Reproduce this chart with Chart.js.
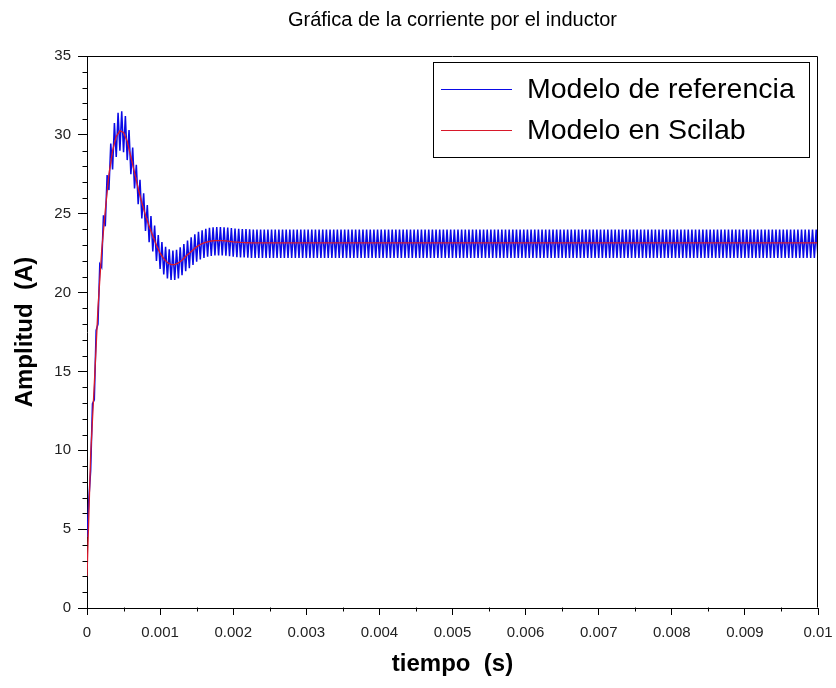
<!DOCTYPE html>
<html>
<head>
<meta charset="utf-8">
<script src="https://cdn.jsdelivr.net/npm/chart.js@4.4.1/dist/chart.umd.min.js"></script>
<style>
  html, body { margin: 0; padding: 0; background: #ffffff; }
  #wrap { width: 836px; height: 688px; }
</style>
</head>
<body>
<div id="wrap"><canvas id="c" width="836" height="688"></canvas></div>
<script>
// ---------------- data ----------------
const chartTitle = 'Gráfica de la corriente por el inductor';
const xAxisTitle = 'tiempo  (s)';
const yAxisTitle = 'Amplitud  (A)';
const seriesNames = ['Modelo de referencia', 'Modelo en Scilab'];

// time between samples (s); sample k is at k * sampleStep
const sampleStep = 0.00005;

// averaged model (Scilab), one value per sample, 0 .. 0.01 s
const scilabAvg = [
  2.0, 9.7, 14.2, 19.0, 22.6, 25.2, 27.5, 29.0, 29.9, 30.25,
  30.15, 29.6, 28.6, 27.6, 26.6, 25.7, 24.9, 24.2, 23.6, 23.0,
  22.5, 22.15, 21.9, 21.77, 21.77, 21.88, 22.05, 22.3, 22.5, 22.7,
  22.9, 23.05, 23.15, 23.22, 23.27, 23.3, 23.3, 23.3, 23.28, 23.25,
  23.22, 23.2, 23.18, 23.17, 23.16, 23.15, 23.15, 23.15, 23.15, 23.15,
  23.15, 23.15, 23.15, 23.15, 23.15, 23.15, 23.15, 23.15, 23.15, 23.15,
  23.15, 23.15, 23.15, 23.15, 23.15, 23.15, 23.15, 23.15, 23.15, 23.15,
  23.15, 23.15, 23.15, 23.15, 23.15, 23.15, 23.15, 23.15, 23.15, 23.15,
  23.15, 23.15, 23.15, 23.15, 23.15, 23.15, 23.15, 23.15, 23.15, 23.15,
  23.15, 23.15, 23.15, 23.15, 23.15, 23.15, 23.15, 23.15, 23.15, 23.15,
  23.15, 23.15, 23.15, 23.15, 23.15, 23.15, 23.15, 23.15, 23.15, 23.15,
  23.15, 23.15, 23.15, 23.15, 23.15, 23.15, 23.15, 23.15, 23.15, 23.15,
  23.15, 23.15, 23.15, 23.15, 23.15, 23.15, 23.15, 23.15, 23.15, 23.15,
  23.15, 23.15, 23.15, 23.15, 23.15, 23.15, 23.15, 23.15, 23.15, 23.15,
  23.15, 23.15, 23.15, 23.15, 23.15, 23.15, 23.15, 23.15, 23.15, 23.15,
  23.15, 23.15, 23.15, 23.15, 23.15, 23.15, 23.15, 23.15, 23.15, 23.15,
  23.15, 23.15, 23.15, 23.15, 23.15, 23.15, 23.15, 23.15, 23.15, 23.15,
  23.15, 23.15, 23.15, 23.15, 23.15, 23.15, 23.15, 23.15, 23.15, 23.15,
  23.15, 23.15, 23.15, 23.15, 23.15, 23.15, 23.15, 23.15, 23.15, 23.15,
  23.15, 23.15, 23.15, 23.15, 23.15, 23.15, 23.15, 23.15, 23.15, 23.15,
  23.15
];

// switched reference model: ripple valleys at k * sampleStep
const refValleys = [
  4.5, 8.7, 13.2, 18.0, 21.6, 24.2, 26.5, 27.8, 28.6, 29.0,
  28.9, 28.4, 27.5, 26.6, 25.6, 24.7, 23.9, 23.2, 22.6, 22.0,
  21.5, 21.15, 20.9, 20.8, 20.8, 20.9, 21.1, 21.35, 21.55, 21.75,
  21.95, 22.1, 22.2, 22.27, 22.32, 22.35, 22.35, 22.35, 22.33, 22.3,
  22.27, 22.25, 22.23, 22.22, 22.21, 22.2, 22.2, 22.2, 22.2, 22.2,
  22.2, 22.2, 22.2, 22.2, 22.2, 22.2, 22.2, 22.2, 22.2, 22.2,
  22.2, 22.2, 22.2, 22.2, 22.2, 22.2, 22.2, 22.2, 22.2, 22.2,
  22.2, 22.2, 22.2, 22.2, 22.2, 22.2, 22.2, 22.2, 22.2, 22.2,
  22.2, 22.2, 22.2, 22.2, 22.2, 22.2, 22.2, 22.2, 22.2, 22.2,
  22.2, 22.2, 22.2, 22.2, 22.2, 22.2, 22.2, 22.2, 22.2, 22.2,
  22.2, 22.2, 22.2, 22.2, 22.2, 22.2, 22.2, 22.2, 22.2, 22.2,
  22.2, 22.2, 22.2, 22.2, 22.2, 22.2, 22.2, 22.2, 22.2, 22.2,
  22.2, 22.2, 22.2, 22.2, 22.2, 22.2, 22.2, 22.2, 22.2, 22.2,
  22.2, 22.2, 22.2, 22.2, 22.2, 22.2, 22.2, 22.2, 22.2, 22.2,
  22.2, 22.2, 22.2, 22.2, 22.2, 22.2, 22.2, 22.2, 22.2, 22.2,
  22.2, 22.2, 22.2, 22.2, 22.2, 22.2, 22.2, 22.2, 22.2, 22.2,
  22.2, 22.2, 22.2, 22.2, 22.2, 22.2, 22.2, 22.2, 22.2, 22.2,
  22.2, 22.2, 22.2, 22.2, 22.2, 22.2, 22.2, 22.2, 22.2, 22.2,
  22.2, 22.2, 22.2, 22.2, 22.2, 22.2, 22.2, 22.2, 22.2, 22.2,
  22.2, 22.2, 22.2, 22.2, 22.2, 22.2, 22.2, 22.2, 22.2, 22.2,
  22.2
];

// switched reference model: ripple peaks at (k + 0.5) * sampleStep
const refPeaks = [
  6.9, 12.95, 17.6, 21.8, 24.9, 27.45, 29.45, 30.75, 31.4, 31.5,
  31.2, 30.3, 29.2, 28.1, 27.15, 26.3, 25.55, 24.85, 24.25, 23.65,
  23.2, 22.9, 22.75, 22.67, 22.72, 22.87, 23.08, 23.3, 23.5, 23.7,
  23.85, 23.95, 24.04, 24.1, 24.14, 24.15, 24.15, 24.14, 24.12, 24.09,
  24.06, 24.04, 24.03, 24.02, 24.01, 24.0, 24.0, 24.0, 24.0, 24.0,
  24.0, 24.0, 24.0, 24.0, 24.0, 24.0, 24.0, 24.0, 24.0, 24.0,
  24.0, 24.0, 24.0, 24.0, 24.0, 24.0, 24.0, 24.0, 24.0, 24.0,
  24.0, 24.0, 24.0, 24.0, 24.0, 24.0, 24.0, 24.0, 24.0, 24.0,
  24.0, 24.0, 24.0, 24.0, 24.0, 24.0, 24.0, 24.0, 24.0, 24.0,
  24.0, 24.0, 24.0, 24.0, 24.0, 24.0, 24.0, 24.0, 24.0, 24.0,
  24.0, 24.0, 24.0, 24.0, 24.0, 24.0, 24.0, 24.0, 24.0, 24.0,
  24.0, 24.0, 24.0, 24.0, 24.0, 24.0, 24.0, 24.0, 24.0, 24.0,
  24.0, 24.0, 24.0, 24.0, 24.0, 24.0, 24.0, 24.0, 24.0, 24.0,
  24.0, 24.0, 24.0, 24.0, 24.0, 24.0, 24.0, 24.0, 24.0, 24.0,
  24.0, 24.0, 24.0, 24.0, 24.0, 24.0, 24.0, 24.0, 24.0, 24.0,
  24.0, 24.0, 24.0, 24.0, 24.0, 24.0, 24.0, 24.0, 24.0, 24.0,
  24.0, 24.0, 24.0, 24.0, 24.0, 24.0, 24.0, 24.0, 24.0, 24.0,
  24.0, 24.0, 24.0, 24.0, 24.0, 24.0, 24.0, 24.0, 24.0, 24.0,
  24.0, 24.0, 24.0, 24.0, 24.0, 24.0, 24.0, 24.0, 24.0, 24.0,
  24.0, 24.0, 24.0, 24.0, 24.0, 24.0, 24.0, 24.0, 24.0, 24.0
];

// axis ticks
const xTickValues = [0, 0.001, 0.002, 0.003, 0.004, 0.005, 0.006, 0.007, 0.008, 0.009, 0.01];
const xTickLabels = ['0', '0.001', '0.002', '0.003', '0.004', '0.005', '0.006', '0.007', '0.008', '0.009', '0.01'];
const yTickValues = [0, 5, 10, 15, 20, 25, 30, 35];
const yTickLabels = ['0', '5', '10', '15', '20', '25', '30', '35'];
const xMinorPerMajor = 2;
const yMinorPerMajor = 5;

// ---------------- build datasets from the arrays ----------------
const avgPoints = scilabAvg.map((v, k) => ({ x: k * sampleStep, y: v }));
const refPoints = [];
for (let k = 0; k < refValleys.length; k++) {
  refPoints.push({ x: k * sampleStep, y: refValleys[k] });
  if (k < refPeaks.length) refPoints.push({ x: (k + 0.5) * sampleStep, y: refPeaks[k] });
}

const BLUE = '#0a0ae6';
const RED = '#d8182a';
const FONT = "'Liberation Sans', Arial, Helvetica, sans-serif";
Chart.defaults.font.family = FONT;
Chart.defaults.color = '#000';

// ---------------- decorations: title, frame, minor ticks, legend ----------------
const decorations = {
  id: 'decorations',
  afterDraw(chart) {
    const ctx = chart.ctx;
    const a = chart.chartArea;
    const xs = chart.scales.x, ys = chart.scales.y;
    ctx.save();
    // title centred over the plot area
    ctx.fillStyle = '#000';
    ctx.font = '20px ' + FONT;
    ctx.textAlign = 'center';
    ctx.textBaseline = 'middle';
    ctx.fillText(chartTitle, (a.left + a.right) / 2, 20);

    ctx.strokeStyle = '#000';
    ctx.lineWidth = 1;
    // top and right frame lines
    const L = Math.round(a.left) + 0.5, R = Math.round(a.right) - 0.5;
    const T = Math.round(a.top) + 0.5, B = Math.round(a.bottom) - 0.5;
    ctx.beginPath();
    ctx.moveTo(L, T); ctx.lineTo(R, T); ctx.lineTo(R, B);
    ctx.stroke();
    // minor ticks
    ctx.beginPath();
    for (let i = 0; i < xTickValues.length - 1; i++) {
      const step = (xTickValues[i + 1] - xTickValues[i]) / xMinorPerMajor;
      for (let j = 1; j < xMinorPerMajor; j++) {
        const px = Math.round(xs.getPixelForValue(xTickValues[i] + j * step)) + 0.5;
        ctx.moveTo(px, B); ctx.lineTo(px, B + 4);
      }
    }
    for (let i = 0; i < yTickValues.length - 1; i++) {
      const step = (yTickValues[i + 1] - yTickValues[i]) / yMinorPerMajor;
      for (let j = 1; j < yMinorPerMajor; j++) {
        const py = Math.round(ys.getPixelForValue(yTickValues[i] + j * step)) + 0.5;
        ctx.moveTo(L, py); ctx.lineTo(L - 5, py);
      }
    }
    ctx.stroke();

    // legend box
    const bx = 433, by = 62, bw = 376, bh = 95;
    ctx.fillStyle = '#fff';
    ctx.fillRect(bx, by, bw, bh);
    ctx.strokeRect(bx + 0.5, by + 0.5, bw, bh);
    const rows = [
      { y: 89.5, color: chart.data.datasets[0].borderColor, text: chart.data.datasets[0].label },
      { y: 130.5, color: chart.data.datasets[1].borderColor, text: chart.data.datasets[1].label }
    ];
    ctx.font = '28.5px ' + FONT;
    ctx.textBaseline = 'middle';
    ctx.textAlign = 'left';
    rows.forEach(r => {
      ctx.strokeStyle = r.color;
      ctx.lineWidth = 1;
      ctx.beginPath();
      ctx.moveTo(441, r.y); ctx.lineTo(512, r.y);
      ctx.stroke();
      ctx.fillStyle = '#000';
      ctx.fillText(r.text, 527, r.y + 1);
    });
    ctx.restore();
  }
};

new Chart(document.getElementById('c'), {
  type: 'line',
  data: {
    datasets: [
      {
        label: seriesNames[0],
        data: refPoints,
        borderColor: BLUE,
        borderWidth: 1.5,
        pointRadius: 0,
        tension: 0,
        order: 1
      },
      {
        label: seriesNames[1],
        data: avgPoints,
        borderColor: RED,
        borderWidth: 1.3,
        pointRadius: 0,
        tension: 0,
        order: 0
      }
    ]
  },
  options: {
    responsive: false,
    animation: false,
    events: [],
    layout: { padding: { left: 0, right: 18, top: 56, bottom: 0 } },
    plugins: {
      legend: { display: false },
      tooltip: { enabled: false },
      title: { display: false }
    },
    scales: {
      x: {
        type: 'linear',
        min: 0,
        max: 0.01,
        afterBuildTicks(scale) { scale.ticks = xTickValues.map(v => ({ value: v })); },
        afterFit(scale) { scale.height = 80; scale.paddingRight = 0; scale.paddingLeft = 0; },
        ticks: {
          autoSkip: false,
          maxRotation: 0,
          minRotation: 0,
          padding: 9,
          color: '#222',
          font: { size: 15 },
          callback: (v, i) => xTickLabels[i]
        },
        grid: { display: true, drawOnChartArea: false, drawTicks: true, tickLength: 7, color: '#000', tickColor: '#000' },
        border: { display: true, color: '#000', width: 1 },
        title: {
          display: true,
          text: xAxisTitle,
          color: '#000',
          font: { size: 24, weight: 'bold', lineHeight: 1.2 },
          padding: { top: 0, bottom: 9 }
        }
      },
      y: {
        type: 'linear',
        min: 0,
        max: 35,
        afterBuildTicks(scale) { scale.ticks = yTickValues.map(v => ({ value: v })); },
        afterFit(scale) { scale.width = 87; scale.paddingTop = 0; scale.paddingBottom = 0; },
        ticks: {
          padding: 7,
          color: '#222',
          font: { size: 15 },
          callback: (v, i) => yTickLabels[i]
        },
        grid: { display: true, drawOnChartArea: false, drawTicks: true, tickLength: 9, color: '#000', tickColor: '#000' },
        border: { display: true, color: '#000', width: 1 },
        title: {
          display: true,
          text: yAxisTitle,
          color: '#000',
          font: { size: 24, weight: 'bold', lineHeight: 1.2 },
          padding: { top: 11, bottom: 0 }
        }
      }
    }
  },
  plugins: [decorations]
});
</script>
</body>
</html>
